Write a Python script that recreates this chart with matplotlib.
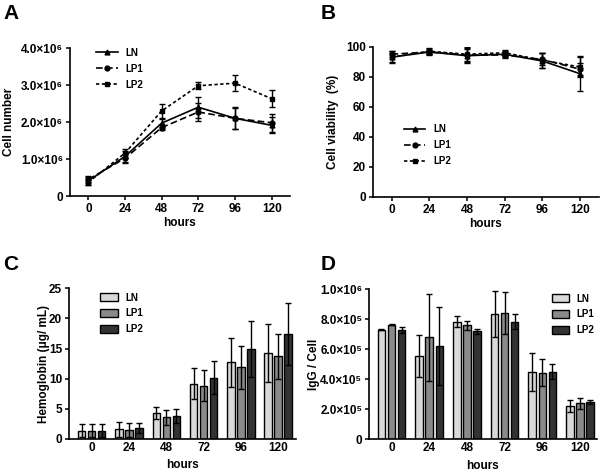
import matplotlib
matplotlib.use('Agg')
import matplotlib.pyplot as plt
import numpy as np

plt.rcParams['font.family'] = ['Liberation Sans', 'DejaVu Sans']
plt.rcParams['font.weight'] = 'bold'

hours = [0, 24, 48, 72, 96, 120]
groups = ['LN', 'LP1', 'LP2']

# A: cell number (x1e6)
cell_ln = [0.41, 1.07, 1.97, 2.40, 2.10, 1.91]
cell_lp1 = [0.45, 1.02, 1.85, 2.27, 2.10, 1.98]
cell_lp2 = [0.37, 1.16, 2.30, 2.98, 3.05, 2.63]
cell_ln_err = [0.10, 0.15, 0.10, 0.28, 0.30, 0.22]
cell_lp1_err = [0.08, 0.12, 0.06, 0.25, 0.28, 0.25]
cell_lp2_err = [0.06, 0.12, 0.20, 0.10, 0.22, 0.23]

# B: viability (%)
via_ln = [93, 96.5, 94, 95, 90.5, 82]
via_lp1 = [95, 96.5, 94.5, 94.5, 91.5, 85]
via_lp2 = [93, 97, 95, 96, 91, 86.5]
via_ln_err = [4, 2, 5, 2, 5, 11.5]
via_lp1_err = [2, 1.5, 4, 2, 4, 4]
via_lp2_err = [3, 2, 5, 2, 5, 6.5]

# C: hemoglobin (ug/mL)
hb_ln = [1.4, 1.6, 4.3, 9.2, 12.7, 14.2]
hb_lp1 = [1.4, 1.5, 3.6, 8.85, 11.9, 13.7]
hb_lp2 = [1.4, 1.8, 3.85, 10.2, 14.95, 17.4]
hb_ln_err = [1.1, 1.2, 1.0, 2.5, 4.1, 4.8]
hb_lp1_err = [1.1, 1.2, 1.2, 2.55, 3.6, 3.7]
hb_lp2_err = [1.1, 0.8, 1.2, 2.8, 4.7, 5.1]

# D: IgG / cell (x1e5)
igg_ln = [7.3, 5.55, 7.85, 8.35, 4.5, 2.2]
igg_lp1 = [7.65, 6.8, 7.6, 8.4, 4.45, 2.4]
igg_lp2 = [7.3, 6.2, 7.2, 7.85, 4.5, 2.5]
igg_ln_err = [0.04, 1.4, 0.35, 1.53, 1.25, 0.4]
igg_lp1_err = [0.06, 2.9, 0.3, 1.4, 0.9, 0.35]
igg_lp2_err = [0.18, 2.6, 0.15, 0.5, 0.5, 0.15]

bar_colors = ['#d9d9d9', '#8a8a8a', '#333333']

fig = plt.figure(figsize=(6.03, 4.73), dpi=100)
axA = fig.add_axes([0.1161, 0.5856, 0.3648, 0.3129])
axB = fig.add_axes([0.618, 0.5841, 0.3753, 0.3171])
axC = fig.add_axes([0.1144, 0.0719, 0.376, 0.3186])
axD = fig.add_axes([0.6124, 0.0712, 0.377, 0.3171])


def style(ax):
    ax.spines['top'].set_visible(False)
    ax.spines['right'].set_visible(False)
    ax.spines['left'].set_linewidth(1.2)
    ax.spines['bottom'].set_linewidth(1.2)
    ax.tick_params(direction='out', length=3, width=1.1, labelsize=8.5, pad=2)
    for t in ax.get_xticklabels() + ax.get_yticklabels():
        t.set_fontweight('bold')


# ---- line panels
lines_cfg = [('LN', '-', '^'), ('LP1', (0, (4, 2)), 'o'), ('LP2', (0, (2, 1.5)), 's')]
cell = [cell_ln, cell_lp1, cell_lp2]
cell_err = [cell_ln_err, cell_lp1_err, cell_lp2_err]
via = [via_ln, via_lp1, via_lp2]
via_err = [via_ln_err, via_lp1_err, via_lp2_err]

for (name, ls, mk), y, e in zip(lines_cfg, cell, cell_err):
    axA.errorbar(hours, np.array(y) * 1e6, yerr=np.array(e) * 1e6, color='black',
                 linestyle=ls, marker=mk, markersize=3.5, linewidth=1.2,
                 capsize=2.5, elinewidth=1, capthick=1, label=name)
for (name, ls, mk), y, e in zip(lines_cfg, via, via_err):
    axB.errorbar(hours, y, yerr=e, color='black', linestyle=ls, marker=mk,
                 markersize=3.5, linewidth=1.2, capsize=2.5, elinewidth=1,
                 capthick=1, label=name)

axA.set_xlim(-12, 132)
axA.set_ylim(0, 4e6)
axA.set_xticks(hours)
axA.set_yticks([0, 1e6, 2e6, 3e6, 4e6])
axA.set_yticklabels(['0', '1.0×10⁶', '2.0×10⁶', '3.0×10⁶', '4.0×10⁶'])
axA.set_ylabel('Cell number', fontsize=8.5, fontweight='bold')
axA.set_xlabel('hours', fontsize=8.5, fontweight='bold')
axA.yaxis.set_label_coords(-0.25, 0.5)
axA.xaxis.set_label_coords(0.5, -0.145)
style(axA)
hA, lA = axA.get_legend_handles_labels()
axA.legend([h[0] for h in hA], lA, loc='upper left', bbox_to_anchor=(0.08, 1.06),
           frameon=False, handlelength=2.2, labelspacing=0.6,
           prop={'weight': 'bold', 'size': 7})

axB.set_xlim(-12, 132)
axB.set_ylim(0, 100)
axB.set_xticks(hours)
axB.set_yticks([0, 20, 40, 60, 80, 100])
axB.set_ylabel('Cell viability  (%)', fontsize=8.5, fontweight='bold')
axB.set_xlabel('hours', fontsize=8.5, fontweight='bold')
axB.yaxis.set_label_coords(-0.15, 0.5)
axB.xaxis.set_label_coords(0.5, -0.145)
style(axB)
hB, lB = axB.get_legend_handles_labels()
axB.legend([h[0] for h in hB], lB, loc='upper left', bbox_to_anchor=(0.1, 0.54),
           frameon=False, handlelength=2.2, labelspacing=0.6,
           prop={'weight': 'bold', 'size': 7})

# ---- bar panels
xpos = np.arange(len(hours))
width = 0.2
offsets = [-0.268, 0, 0.268]
hb = [hb_ln, hb_lp1, hb_lp2]
hb_err = [hb_ln_err, hb_lp1_err, hb_lp2_err]
igg = [igg_ln, igg_lp1, igg_lp2]
igg_err = [igg_ln_err, igg_lp1_err, igg_lp2_err]

for i in range(3):
    axC.bar(xpos + offsets[i], hb[i], width, yerr=hb_err[i], color=bar_colors[i],
            edgecolor='black', linewidth=1, label=groups[i],
            error_kw=dict(capsize=2.5, elinewidth=1, capthick=1, ecolor='black'))
    axD.bar(xpos + offsets[i], np.array(igg[i]) * 1e5, width,
            yerr=np.array(igg_err[i]) * 1e5, color=bar_colors[i],
            edgecolor='black', linewidth=1, label=groups[i],
            error_kw=dict(capsize=2.5, elinewidth=1, capthick=1, ecolor='black'))

axC.set_xlim(-0.61, 5.47)
axC.set_ylim(0, 25)
axC.set_xticks(xpos)
axC.set_xticklabels([str(h) for h in hours])
axC.set_yticks([0, 5, 10, 15, 20, 25])
axC.set_ylabel('Hemoglobin (μg/ mL)', fontsize=8.5, fontweight='bold')
axC.set_xlabel('hours', fontsize=8.5, fontweight='bold')
axC.yaxis.set_label_coords(-0.085, 0.5)
axC.xaxis.set_label_coords(0.5, -0.135)
style(axC)
axC.tick_params(axis='x', length=0)
axC.legend(loc='upper left', bbox_to_anchor=(0.1, 1.03), frameon=False,
           handlelength=1.8, handleheight=0.8, labelspacing=0.6,
           prop={'weight': 'bold', 'size': 7})

axD.set_xlim(-0.59, 5.44)
axD.set_ylim(0, 1e6)
axD.set_xticks(xpos)
axD.set_xticklabels([str(h) for h in hours])
axD.set_yticks([0, 2e5, 4e5, 6e5, 8e5, 1e6])
axD.set_yticklabels(['0', '2.0×10⁵', '4.0×10⁵', '6.0×10⁵', '8.0×10⁵', '1.0×10⁶'])
axD.set_ylabel('IgG / Cell', fontsize=8.5, fontweight='bold')
axD.set_xlabel('hours', fontsize=8.5, fontweight='bold')
axD.yaxis.set_label_coords(-0.215, 0.5)
axD.xaxis.set_label_coords(0.5, -0.135)
style(axD)
axD.tick_params(axis='x', length=0)
axD.legend(loc='upper right', bbox_to_anchor=(1.03, 1.03), frameon=False,
           handlelength=1.8, handleheight=0.8, labelspacing=0.6,
           prop={'weight': 'bold', 'size': 7})

# panel letters
for lbl, x, y in [('A', 0.006, 0.972), ('B', 0.532, 0.972), ('C', 0.006, 0.44), ('D', 0.532, 0.44)]:
    fig.text(x, y, lbl, fontsize=15, fontweight='bold', va='center', ha='left')

fig.savefig('out.png', dpi=100)
